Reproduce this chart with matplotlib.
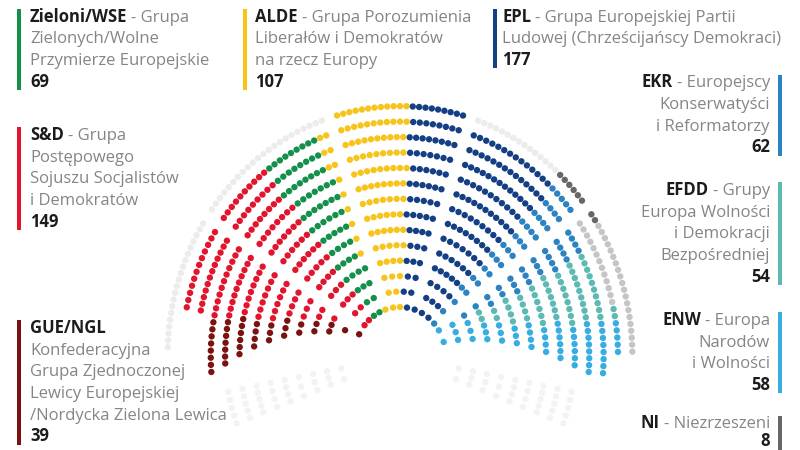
import numpy as np
import matplotlib
matplotlib.use("Agg")
import matplotlib.pyplot as plt
from matplotlib.patches import Rectangle

# ---------------- data ----------------
groups = ["GUE/NGL", "S&D", "Zieloni/WSE", "ALDE", "EPL", "EKR", "NI", "EFDD", "ENW"]
seat_counts = [39, 149, 69, 107, 177, 62, 8, 54, 58]
group_colors = ["#7b1212", "#e2152f", "#14904a", "#f6c41b", "#153f85",
                "#2b83c3", "#676767", "#5cbab2", "#37ade2"]
descriptions = [
    ["Konfederacyjna", "Grupa Zjednoczonej", "Lewicy Europejskiej", "/Nordycka Zielona Lewica"],
    ["- Grupa", "Postępowego", "Sojuszu Socjalistów", "i Demokratów"],
    ["- Grupa", "Zielonych/Wolne", "Przymierze Europejskie"],
    ["- Grupa Porozumienia", "Liberałów i Demokratów", "na rzecz Europy"],
    ["- Grupa Europejskiej Partii", "Ludowej (Chrześcijańscy Demokraci)"],
    ["- Europejscy", "Konserwatyści", "i Reformatorzy"],
    ["- Niezrzeszeni"],
    ["- Grupy", "Europa Wolności", "i Demokracji", "Bezpośredniej"],
    ["- Europa", "Narodów", "i Wolności"],
]
empty_light = "#ececec"
empty_mid = "#c5c5c5"

cnt = dict(zip(groups, seat_counts))
col = dict(zip(groups, group_colors))
desc = dict(zip(groups, descriptions))

# ---------------- figure ----------------
fig = plt.figure(figsize=(8, 4.5), dpi=100)
ax = fig.add_axes([0, 0, 1, 1])
ax.set_xlim(0, 800)
ax.set_ylim(450, 0)
ax.axis("off")

# ---------------- hemicycle geometry ----------------
cx, cy = 400, 356
ex = 0.93
radii = [49 + 15.45 * k for k in range(14)]
spacing = 6.85
nrows = len(radii)
AISLE_L, AISLE_R = 146.0, 36.5


def gap(k, r):
    return np.degrees((8.5 if k == 0 else 17.0) / r)


def half_mid(r):
    hw = 12 + 0.30 * (r - 64)
    return np.degrees(np.arcsin(min(hw / r, 0.95)))


def endL(k, r):
    if k == nrows - 1:
        return 178
    if k >= nrows - 3:
        return 168
    return 184.5 - 28 * max(0, 200 - r) / 150


def endR(k, r):
    if k >= nrows - 2:
        return 1
    return -4.5 + 21 * max(0, 200 - r) / 150


def row_seats(r, a0, a1):
    lo, hi = min(a0, a1), max(a0, a1)
    n = int(np.floor(np.radians(hi - lo) * r / spacing)) + 1
    if n == 1:
        return [0.5 * (lo + hi)]
    return list(np.linspace(lo, hi, n))


sectors = {"L2": [], "L1": [], "M": [], "R1": [], "R2": [], "BL": [], "BR": []}
for k, r in enumerate(radii):
    g = gap(k, r)
    h = half_mid(r)
    spec = {
        "M": (90 - h, 90 + h),
        "L1": (90 + h + g, AISLE_L - g / 2),
        "L2": (AISLE_L + g / 2, endL(k, r)),
        "R1": (AISLE_R + g / 2, 90 - h - g),
        "R2": (endR(k, r), AISLE_R - g / 2),
    }
    for name, (a0, a1) in spec.items():
        for a in row_seats(r, a0, a1):
            sectors[name].append([k, r, a])
    if 1 <= k <= 9:
        for a in row_seats(r, 191, 201):
            sectors["BL"].append([k, r, a])
        for a in row_seats(r, -21, -11):
            sectors["BR"].append([k, r, a])

for name in sectors:
    sectors[name] = np.array(sectors[name], dtype=float)

X, Y, C = [], [], []


def xy(arr):
    aa = np.radians(arr[:, 2])
    return cx + ex * arr[:, 1] * np.cos(aa), cy - arr[:, 1] * np.sin(aa)


def put(arr, color):
    if len(arr) == 0:
        return
    x, y = xy(arr)
    X.extend(x)
    Y.extend(y)
    C.extend([color] * len(arr))


def ypos(arr):
    return xy(arr)[1]


# bottom decorative blocks
put(sectors["BL"], "#f3f3f3")
put(sectors["BR"], "#f3f3f3")

# left-lower sector: GUE (lowest seats) + S&D
L2 = sectors["L2"]
outer = L2[:, 0] == nrows - 1
put(L2[outer], empty_light)
L2 = L2[~outer]
order = np.argsort(-ypos(L2))
put(L2[order[:cnt["GUE/NGL"]]], col["GUE/NGL"])
sd2 = L2[order[cnt["GUE/NGL"]:]]
put(sd2, col["S&D"])
sd_rest = max(cnt["S&D"] - len(sd2), 0)

# left-upper sector: S&D, Greens, ALDE
L1 = sectors["L1"]
outer = L1[:, 0] == nrows - 1
put(L1[outer], empty_light)
L1 = L1[~outer]
L1 = L1[np.argsort(-L1[:, 2])]
put(L1[:sd_rest], col["S&D"])
put(L1[sd_rest:sd_rest + cnt["Zieloni/WSE"]], col["Zieloni/WSE"])
alde_left_arr = L1[sd_rest + cnt["Zieloni/WSE"]:]
put(alde_left_arr, col["ALDE"])
alde_left = len(alde_left_arr)

# middle sector: ALDE, EPL
M = sectors["M"]
M = M[np.argsort(-M[:, 2])]
alde_mid = max(cnt["ALDE"] - alde_left, 0)
put(M[:alde_mid], col["ALDE"])
epl_mid_arr = M[alde_mid:]
put(epl_mid_arr, col["EPL"])
epl_rest = max(cnt["EPL"] - len(epl_mid_arr), 0)

# right-upper sector: EPL, EKR, NI (outer row), empty
R1 = sectors["R1"]
outer = R1[:, 0] == nrows - 1
R1o = R1[outer]
R1 = R1[~outer]
ni_mask = R1o[:, 2] <= 47
ni1 = R1o[ni_mask][:cnt["NI"]]
put(R1o[~ni_mask], empty_light)
put(ni1, col["NI"])
R1 = R1[np.argsort(-R1[:, 2])]
put(R1[:epl_rest], col["EPL"])
ekr1 = R1[epl_rest:]
put(ekr1, col["EKR"])
ekr_rest = max(cnt["EKR"] - len(ekr1), 0)

# right-lower sector: NI rest, empty (outer rows), EKR, EFDD, ENW
R2 = sectors["R2"]
ni_rest = cnt["NI"] - len(ni1)
o13 = np.where(R2[:, 0] == nrows - 1)[0]
o13 = o13[np.argsort(-R2[o13, 2])]
ni2_idx = o13[:ni_rest]
put(R2[ni2_idx], col["NI"])
mask = np.ones(len(R2), bool)
mask[ni2_idx] = False
R2 = R2[mask]
n_empty = max(len(R2) - ekr_rest - cnt["EFDD"] - cnt["ENW"], 0)
pri = np.lexsort((-R2[:, 2], -R2[:, 0]))
put(R2[pri[:n_empty]], empty_mid)
R2 = R2[pri[n_empty:]]
order = np.argsort(-ypos(R2))
put(R2[order[:cnt["ENW"]]], col["ENW"])
R2 = R2[order[cnt["ENW"]:]]
R2 = R2[np.argsort(-R2[:, 2])]
put(R2[:ekr_rest], col["EKR"])
put(R2[ekr_rest:], col["EFDD"])

ax.scatter(X, Y, s=21, c=C, linewidths=0, zorder=2)

# ---------------- labels ----------------
FONT = "Open Sans"
FS = 12
DARK = "#1c1c1c"
GREY = "#858585"
LH = 21.7
renderer = fig.canvas.get_renderer()


def width_px(t):
    return t.get_window_extent(renderer=renderer).width


def label(group, x, y0, bar_x, align="left", bar_bottom=None):
    lines = desc[group]
    if lines[0].startswith("-"):
        first, rest = lines[0], lines[1:]
    else:
        first, rest = None, lines
    if align == "left":
        t = ax.text(x, y0, group, ha="left", va="baseline", fontsize=FS,
                    family=FONT, weight="bold", color=DARK)
        if first:
            w = width_px(t)
            ax.text(x + w + 4, y0, first, ha="left", va="baseline", fontsize=FS,
                    family=FONT, color=GREY)
    else:
        if first:
            t = ax.text(x, y0, first, ha="right", va="baseline", fontsize=FS,
                        family=FONT, color=GREY)
            w = width_px(t)
            ax.text(x - w - 4, y0, group, ha="right", va="baseline", fontsize=FS,
                    family=FONT, weight="bold", color=DARK)
        else:
            ax.text(x, y0, group, ha="right", va="baseline", fontsize=FS,
                    family=FONT, weight="bold", color=DARK)
    y = y0
    for ln in rest:
        y += LH
        ax.text(x, y, ln, ha=align, va="baseline", fontsize=FS, family=FONT, color=GREY)
    y = y + LH if bar_bottom is None else y + 17.3
    ax.text(x, y, str(cnt[group]), ha=align, va="baseline", fontsize=FS,
            family=FONT, weight="bold", color=DARK)
    top = y0 - 12.7
    bottom = y + 3.3 if bar_bottom is None else bar_bottom
    ax.add_patch(Rectangle((bar_x - 1.8, top), 3.6, bottom - top,
                           facecolor=col[group], edgecolor="none", zorder=3))


label("Zieloni/WSE", 30, 21.7, 19)
label("ALDE", 255, 21.7, 245)
label("EPL", 502, 21.7, 495)
label("S&D", 30, 140, 19)
label("GUE/NGL", 30, 333, 19)
label("EKR", 770, 87.3, 780, "right")
label("EFDD", 770, 195, 780, "right")
label("ENW", 770, 325, 780, "right")
label("NI", 770, 428.5, 780, "right", bar_bottom=452)

fig.savefig("out.png", dpi=100)
